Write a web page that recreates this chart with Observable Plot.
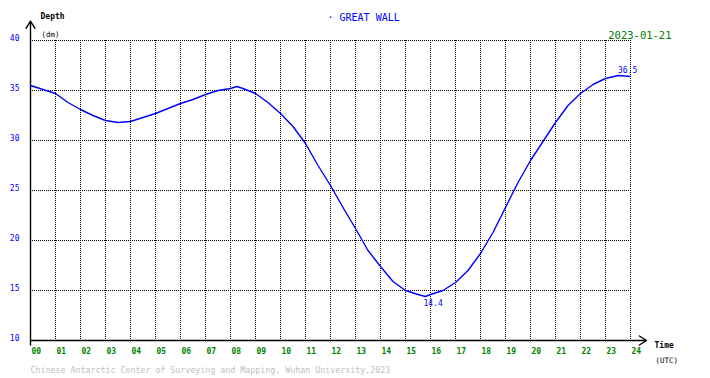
<!DOCTYPE html>
<html>
<head>
<meta charset="utf-8">
<script src="https://cdn.jsdelivr.net/npm/d3@7"></script>
<script src="https://cdn.jsdelivr.net/npm/@observablehq/plot@0.6"></script>
<style>
  html, body { margin: 0; padding: 0; background: #fff; }
  svg text { font-family: "DejaVu Sans Mono", monospace; }
</style>
</head>
<body>
<div id="chart"></div>
<script>
// Tide depth (dm) at Great Wall station, 2023-01-21, hour (UTC)
const hours  = [0, 0.5, 1, 1.5, 2, 2.5, 3, 3.5, 4, 4.5, 5, 5.5, 6, 6.5, 7, 7.5, 8, 8.25, 8.5, 9, 9.5, 10, 10.5, 11, 11.5, 12, 12.5, 13, 13.5, 14, 14.5, 15, 15.5, 15.8, 16, 16.5, 17, 17.5, 18, 18.5, 19, 19.5, 20, 20.5, 21, 21.5, 22, 22.5, 23, 23.5, 24];
const depths = [35.5, 35.1, 34.7, 33.8, 33.1, 32.5, 32.0, 31.8, 31.9, 32.3, 32.7, 33.2, 33.7, 34.1, 34.6, 35.0, 35.2, 35.4, 35.2, 34.7, 33.8, 32.7, 31.4, 29.7, 27.5, 25.5, 23.3, 21.2, 19.0, 17.4, 15.9, 15.0, 14.6, 14.4, 14.6, 15.0, 15.8, 17.0, 18.7, 20.8, 23.3, 25.8, 28.0, 29.9, 31.8, 33.5, 34.7, 35.6, 36.2, 36.5, 36.4];
const xTicks = d3.range(0, 25);
const xGridTicks = d3.range(1, 25);
const yTicks = [10, 15, 20, 25, 30, 35, 40];
const yGridTicks = [15, 20, 25, 30, 35, 40];
const stationTitle = "· GREAT WALL";
const dateLabel = "2023-01-21";
const caption = "Chinese Antarctic Center of Surveying and Mapping, Wuhan University,2023";

const data = hours.map((h, i) => ({hour: h, depth: depths[i]}));
const minPt = data.reduce((a, b) => (b.depth < a.depth ? b : a));
const maxPt = data.reduce((a, b) => (b.depth >= a.depth ? b : a));
const axisLines = [
  {x1: 0, y1: 9.55, x2: 0, y2: 41.93},
  {x1: 0, y1: 10, x2: 24.64, y2: 10}
];

const blue = "#0000ff", green = "#008000";
const fs = 8;

const chart = Plot.plot({
  width: 710,
  height: 378,
  marginLeft: 30,
  marginRight: 80,
  marginTop: 40,
  marginBottom: 38,
  style: {background: "#fff", fontFamily: "DejaVu Sans Mono, monospace", overflow: "visible"},
  x: {domain: [0, 24]},
  y: {domain: [10, 40]},
  marks: [
    Plot.gridX(xGridTicks, {stroke: "#000", strokeOpacity: 1, strokeDasharray: "1,1"}),
    Plot.gridY(yGridTicks, {stroke: "#000", strokeOpacity: 1, strokeDasharray: "1,1"}),
    Plot.axisX(xTicks, {tickSize: 0, tickPadding: 8, textAnchor: "start", dx: 1, tickFormat: d3.format("02d"), fill: green, fontSize: fs, fontWeight: "bold", label: null}),
    Plot.axisY(yTicks, {tickSize: 0, tickPadding: 11, dy: -2, fill: blue, fontSize: fs, label: null}),
    Plot.arrow(axisLines, {x1: "x1", y1: "y1", x2: "x2", y2: "y2", stroke: "#000", strokeWidth: 1.4, headLength: 9, headAngle: 65}),
    Plot.line(data, {x: "hour", y: "depth", stroke: blue, strokeWidth: 1.4}),
    Plot.text([minPt], {x: "hour", y: "depth", text: d => d.depth.toFixed(1), textAnchor: "start", dx: -2, dy: 4, lineAnchor: "top", fill: blue, fontSize: fs}),
    Plot.text([maxPt], {x: "hour", y: "depth", text: d => d.depth.toFixed(1), textAnchor: "start", dx: 0, dy: -3, lineAnchor: "bottom", fill: blue, fontSize: fs}),
    Plot.text(["Depth"], {frameAnchor: "top-left", lineAnchor: "middle", text: d => d, textAnchor: "start", dx: 10, dy: -24, fill: "#000", fontSize: fs, fontWeight: "bold"}),
    Plot.text(["(dm)"], {frameAnchor: "top-left", lineAnchor: "middle", text: d => d, textAnchor: "start", dx: 11, dy: -6, fill: "#000", fontSize: 7.5}),
    Plot.text([stationTitle], {frameAnchor: "top-left", lineAnchor: "middle", text: d => d, textAnchor: "start", dx: 297, dy: -23, fill: blue, fontSize: 10}),
    Plot.text([dateLabel], {frameAnchor: "top-right", lineAnchor: "middle", text: d => d, textAnchor: "end", dx: 41, dy: -5, fill: green, fontSize: 10.5}),
    Plot.text(["Time"], {frameAnchor: "bottom-right", lineAnchor: "middle", text: d => d, textAnchor: "start", dx: 24, dy: 4.5, fill: "#000", fontSize: fs, fontWeight: "bold"}),
    Plot.text(["(UTC)"], {frameAnchor: "bottom-right", lineAnchor: "middle", text: d => d, textAnchor: "start", dx: 25, dy: 20, fill: "#000", fontSize: 7.5}),
    Plot.text([caption], {frameAnchor: "bottom-left", lineAnchor: "middle", text: d => d, textAnchor: "start", dx: 0, dy: 30, fill: "#c0c0c0", fontSize: 8.3})
  ]
});
document.getElementById("chart").appendChild(chart);
</script>
</body>
</html>
